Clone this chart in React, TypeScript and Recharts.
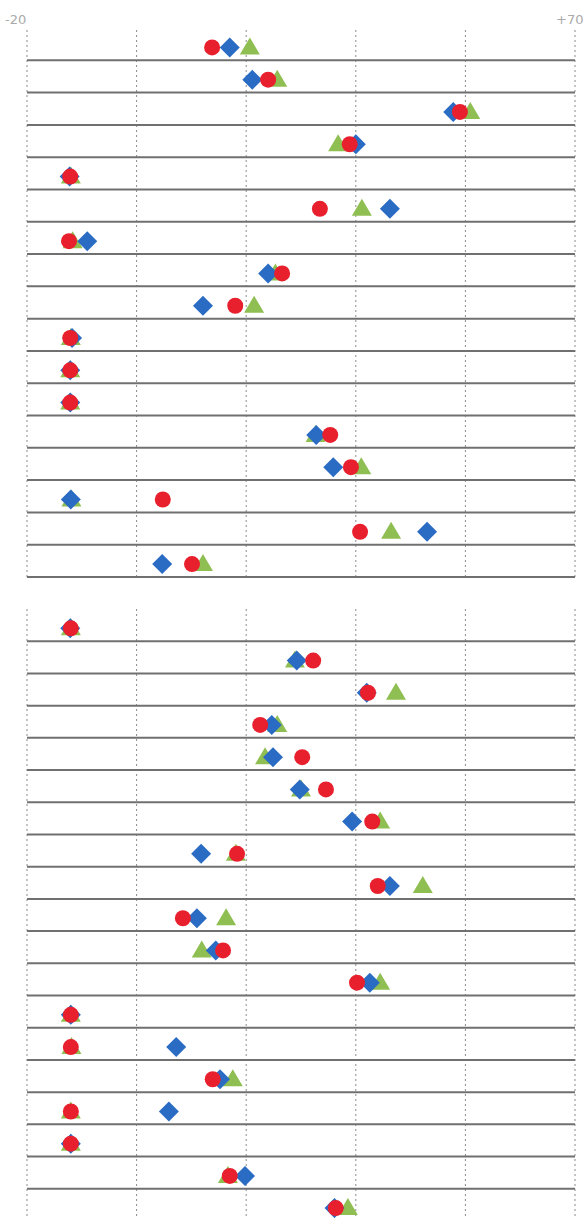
import { ScatterChart, Scatter, XAxis, YAxis, ReferenceLine } from 'recharts';

// x-axis range and gridline ticks
const xTicks = [-20, -2, 16, 34, 52, 70];
const edgeLabels = ['-20', '+70'];

// panel 1 (17 rows, top to bottom)
const top_red = [10.4, 19.6, 51.1, 33.0, -12.9, 28.1, -13.1, 21.9, 14.2, -12.9, -12.9, -12.9, 29.8, 33.2, 2.3, 34.7, 7.1];
const top_blue = [13.3, 17.0, 50.0, 34.0, -13.0, 39.6, -10.1, 19.6, 8.9, -12.6, -12.9, -12.9, 27.5, 30.3, -12.8, 45.7, 2.2];
const top_green = [16.6, 21.1, 52.8, 31.1, -12.8, 35.0, -12.5, 20.8, 17.3, -12.8, -12.9, -12.9, 27.4, 34.9, -12.7, 39.8, 8.9];

// panel 2 (19 rows, top to bottom)
const bottom_red = [-12.8, 27.0, 36.0, 18.3, 25.2, 29.1, 36.7, 14.5, 37.6, 5.6, 12.2, 34.2, -12.8, -12.8, 10.5, -12.8, -12.8, 13.3, 30.7];
const bottom_blue = [-12.9, 24.3, 35.8, 20.2, 20.4, 24.8, 33.4, 8.6, 39.6, 7.9, 11.0, 36.3, -12.8, 4.5, 11.7, 3.3, -12.8, 15.8, 30.5];
const bottom_green = [-12.8, 24.0, 40.6, 21.1, 19.1, 25.0, 38.0, 14.3, 45.0, 12.7, 8.7, 38.0, -12.8, -12.7, 13.8, -12.8, -12.8, 13.0, 32.7];

const toPoints = (vals: number[]) => vals.map((v, i) => ({ x: v, y: i + 0.6 }));

const RedDot = (p: any) => <circle cx={p.cx} cy={p.cy} r={8} fill="#e8202e" />;
const BlueDiamond = (p: any) => (
  <polygon
    points={`${p.cx},${p.cy - 10} ${p.cx + 10},${p.cy} ${p.cx},${p.cy + 10} ${p.cx - 10},${p.cy}`}
    fill="#2a6bc4"
  />
);
const GreenTriangle = (p: any) => (
  <polygon
    points={`${p.cx},${p.cy - 10} ${p.cx + 10},${p.cy + 7} ${p.cx - 10},${p.cy + 7}`}
    fill="#8fbf52"
  />
);

function Panel({ red, blue, green, height, margin }: any) {
  const n = red.length;
  const rowTicks = Array.from({ length: n }, (_, i) => i + 1);
  return (
    <ScatterChart width={583} height={height} margin={margin}>
      <XAxis
        type="number"
        dataKey="x"
        domain={[-20, 70]}
        ticks={xTicks}
        height={0}
        tick={false}
        axisLine={false}
        tickLine={false}
      />
      <YAxis
        type="number"
        dataKey="y"
        domain={[0, n]}
        reversed
        width={0}
        tick={false}
        axisLine={false}
        tickLine={false}
      />
      {xTicks.map((t) => (
        <ReferenceLine key={'v' + t} x={t} stroke="#8a8a8a" strokeDasharray="2 3" />
      ))}
      {rowTicks.map((r) => (
        <ReferenceLine key={'h' + r} y={r} stroke="#707070" strokeWidth={2} />
      ))}
      <Scatter data={toPoints(green)} shape={GreenTriangle} isAnimationActive={false} />
      <Scatter data={toPoints(blue)} shape={BlueDiamond} isAnimationActive={false} />
      <Scatter data={toPoints(red)} shape={RedDot} isAnimationActive={false} />
    </ScatterChart>
  );
}

export default function App() {
  return (
    <div
      style={{
        position: 'absolute',
        left: 0,
        top: 0,
        width: 583,
        height: 1218,
        overflow: 'hidden',
        background: '#fff',
        fontFamily: 'DejaVu Sans, sans-serif',
      }}
    >
      <div style={{ position: 'absolute', left: 5, top: 12, fontSize: 13, color: '#aaa' }}>{edgeLabels[0]}</div>
      <div style={{ position: 'absolute', left: 556, top: 12, fontSize: 13, color: '#aaa', whiteSpace: 'nowrap' }}>
        {edgeLabels[1]}
      </div>
      <div style={{ position: 'absolute', left: 0, top: 0 }}>
        <Panel
          red={top_red}
          blue={top_blue}
          green={top_green}
          height={600}
          margin={{ top: 28, right: 8, bottom: 23, left: 27 }}
        />
      </div>
      <div style={{ position: 'absolute', left: 0, top: 600 }}>
        <Panel
          red={bottom_red}
          blue={bottom_blue}
          green={bottom_green}
          height={640}
          margin={{ top: 9, right: 8, bottom: 19, left: 27 }}
        />
      </div>
    </div>
  );
}
